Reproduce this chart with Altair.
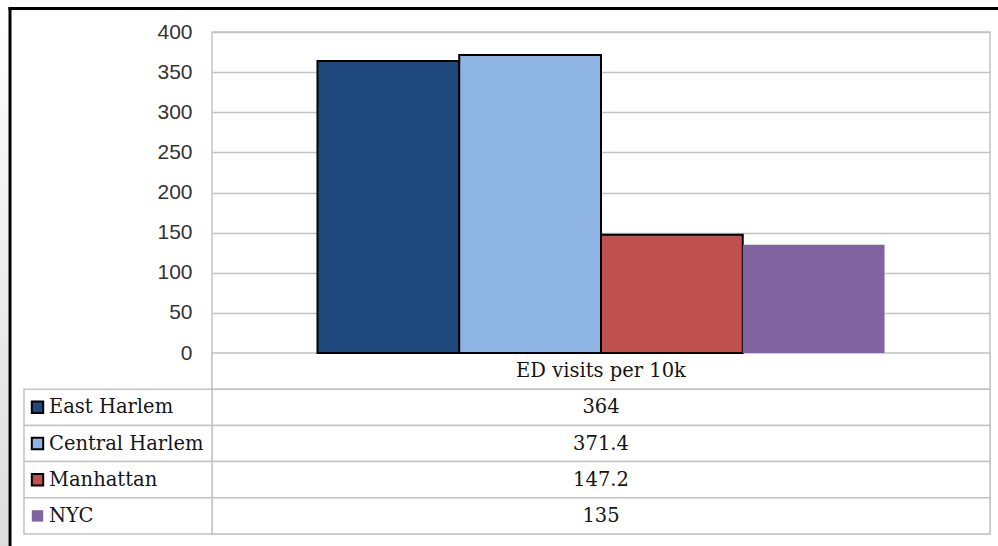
import altair as alt
import pandas as pd

# ED visits per 10k residents, by area
regions = ["East Harlem", "Central Harlem", "Manhattan", "NYC"]
visits = [364, 371.4, 147.2, 135]
measure = "ED visits per 10k"
colors = ["#1F497D", "#8EB4E3", "#C0504D", "#8064A2"]
y_ticks = [0, 50, 100, 150, 200, 250, 300, 350, 400]

bars_df = pd.DataFrame({"measure": measure, "region": regions, "value": visits})
rows = ["header"] + regions
table_df = pd.DataFrame({
    "row": rows,
    "measure": measure,
    "label": [measure] + [str(v) for v in visits],
})
legend_df = pd.DataFrame({"row": regions, "region": regions})

# layout (pixels)
W, H = 778, 502          # plot area: bar panel + data table
BAR_H = 321              # bar panel height
LEFT_COL = 188           # width of the table's series-name column
PAD = {"left": 212, "top": 32, "right": 8, "bottom": 12}

GRID = "#c3c3c3"
SERIF = "DejaVu Serif"
TEXT = "#151515"
color_scale = alt.Scale(domain=regions, range=colors)
no_stroke_nyc = alt.condition("datum.region === 'NYC'", alt.value("transparent"), alt.value("black"))

x_band = alt.X("measure:N", axis=None,
               scale=alt.Scale(domain=[measure], paddingInner=0, paddingOuter=0.186))

bars = alt.Chart(bars_df).mark_bar(strokeWidth=2).encode(
    x=x_band,
    xOffset=alt.XOffset("region:N", scale=alt.Scale(domain=regions, paddingInner=0, paddingOuter=0)),
    y=alt.Y("value:Q",
            scale=alt.Scale(domain=[0, 400], range=[BAR_H, 0], nice=False),
            axis=alt.Axis(values=y_ticks, title=None, ticks=False, domain=False,
                          labelPadding=20, labelFont="Liberation Sans", labelFontSize=21,
                          labelColor="#333333", grid=True, gridColor=GRID, gridWidth=1.5)),
    color=alt.Color("region:N", scale=color_scale, legend=None),
    stroke=no_stroke_nyc,
)

row_y = alt.Y("row:N", axis=None,
              scale=alt.Scale(domain=rows, range=[BAR_H, H], paddingInner=0, paddingOuter=0))

# value cells of the data table
cells = alt.Chart(table_df).mark_rect(fill="white", stroke=GRID, strokeWidth=1.5).encode(
    x=alt.value(0), x2=alt.value(W), y=row_y,
)
cell_text = alt.Chart(table_df).mark_text(font=SERIF, fontSize=19.5, color=TEXT).encode(
    x=x_band, y=row_y, text="label:N",
)

# series-name column with legend keys
name_cells = alt.Chart(legend_df).mark_rect(fill="white", stroke=GRID, strokeWidth=1.5).encode(
    x=alt.value(-LEFT_COL), x2=alt.value(0), y=row_y,
)
keys = alt.Chart(legend_df).mark_point(shape="square", filled=True, size=130,
                                       strokeWidth=2, opacity=1).encode(
    x=alt.value(-174.5), y=row_y,
    color=alt.Color("region:N", scale=color_scale, legend=None),
    stroke=no_stroke_nyc,
)
names = alt.Chart(legend_df).mark_text(font=SERIF, fontSize=19.5, align="left",
                                       color=TEXT).encode(
    x=alt.value(-163), y=row_y, text="region:N",
)

# page frame
shade = alt.Chart(pd.DataFrame({"k": [0]})).mark_rect(
    color=alt.Gradient(gradient="linear", x1=0, x2=0, y1=0, y2=1,
                       stops=[alt.GradientStop(color="#ffffff", offset=0),
                              alt.GradientStop(color="#dcdcdc", offset=1)])
).encode(x=alt.value(-PAD["left"]), x2=alt.value(-PAD["left"] + 8),
         y=alt.value(-PAD["top"]), y2=alt.value(H + PAD["bottom"]))
frame_left = alt.Chart(pd.DataFrame({"k": [0]})).mark_rule(color="black", strokeWidth=3).encode(
    x=alt.value(-202), y=alt.value(-25), y2=alt.value(H + PAD["bottom"]))
frame_top = alt.Chart(pd.DataFrame({"k": [0]})).mark_rule(color="black", strokeWidth=3).encode(
    y=alt.value(-23.5), x=alt.value(-203.5), x2=alt.value(W + PAD["right"]))

chart = alt.layer(
    shade, frame_left, frame_top,
    cells, name_cells, bars, cell_text, keys, names,
).resolve_scale(y="independent", x="shared").properties(
    width=W, height=H,
    padding=PAD,
    autosize=alt.AutoSizeParams(type="none"),
    background="white",
).configure_view(stroke=GRID, strokeWidth=1.5)

chart.save("out.html", embed_options={"renderer": "svg", "actions": False})
